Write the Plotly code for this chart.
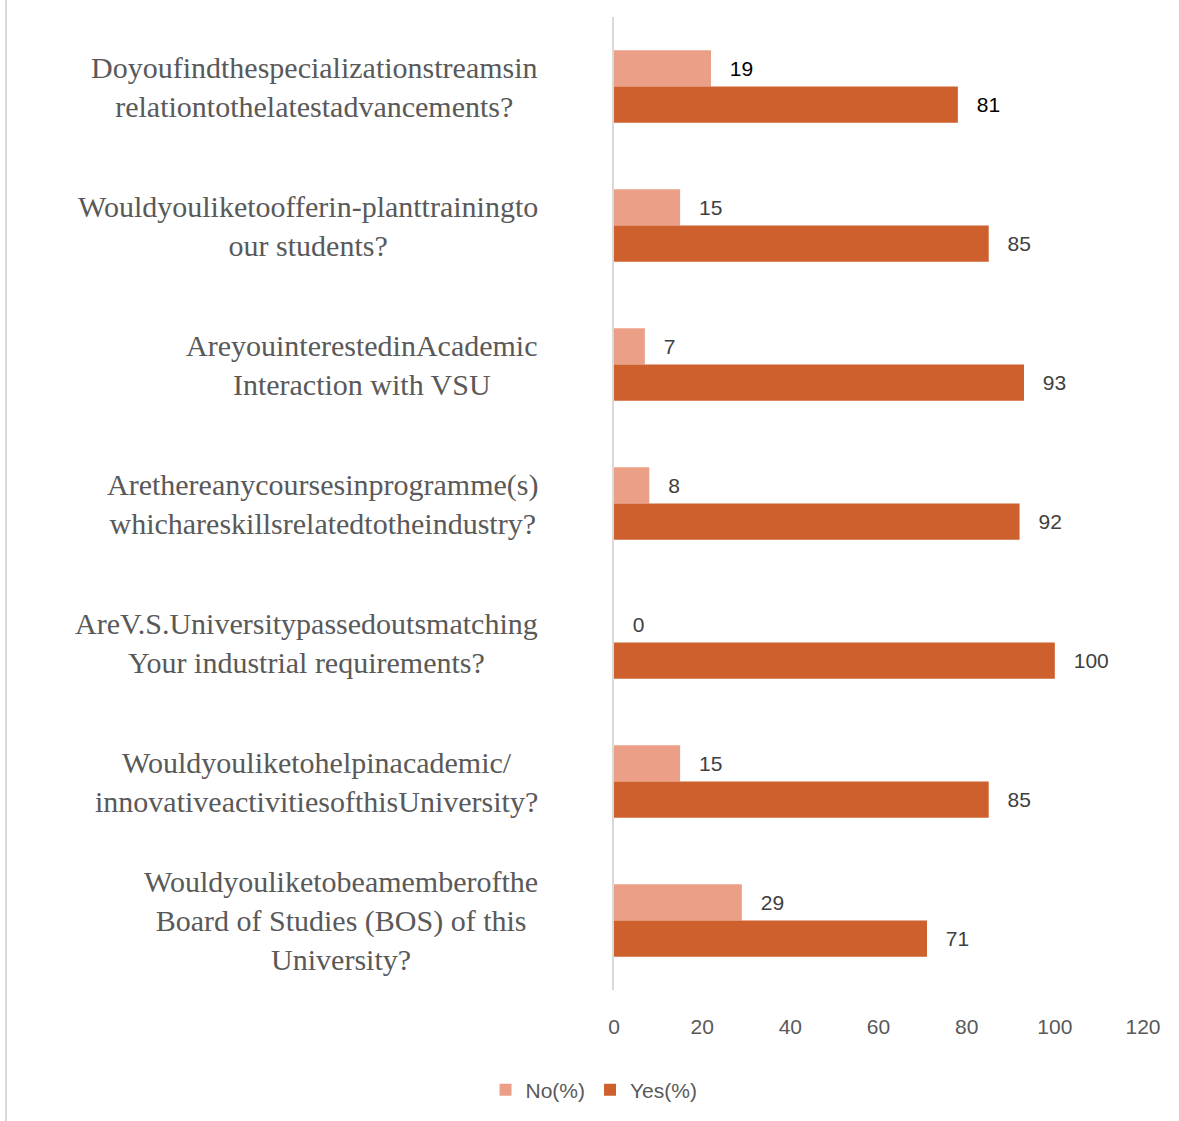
import plotly.graph_objects as go

# ---- data ----
categories = [
    "Doyoufindthespecializationstreamsin<br>relationtothelatestadvancements?",
    "Wouldyouliketoofferin-planttrainingto<br>our students?",
    "AreyouinterestedinAcademic<br>Interaction with VSU",
    "Arethereanycoursesinprogramme(s)<br>whichareskillsrelatedtotheindustry?",
    "AreV.S.Universitypassedoutsmatching<br>Your industrial requirements?",
    "Wouldyouliketohelpinacademic/<br>innovativeactivitiesofthisUniversity?",
    "Wouldyouliketobeamemberofthe<br>Board of Studies (BOS) of this<br>University?",
]
# bar lengths as drawn in the picture
no_pct = [22, 15, 7, 8, 0, 15, 29]
yes_pct = [78, 85, 93, 92, 100, 85, 71]
# data labels as printed in the picture
no_labels = ["19", "15", "7", "8", "0", "15", "29"]
yes_labels = ["81", "85", "93", "92", "100", "85", "71"]
x_ticks = [0, 20, 40, 60, 80, 100, 120]
series_names = ["No(%)", "Yes(%)"]

# ---- styles ----
C_NO = "#EB9F86"
C_YES = "#CD602C"
TXT = "#595959"
W, H = 1179, 1121
ML, MR, MT, MB = 614, 36, 17, 131
PW = W - ML - MR
PH = H - MT - MB
label_colors = ["#000000"] + ["#404040"] * 6

pad = "\u00a0\u00a0\u2009"

fig = go.Figure()
for name, vals, labs, col in [(series_names[0], no_pct, no_labels, C_NO),
                              (series_names[1], yes_pct, yes_labels, C_YES)]:
    fig.add_trace(go.Bar(
        name=name, y=categories, x=vals, orientation="h",
        marker=dict(color=col, line=dict(width=0)),
        text=[f"{pad}{t}" for t in labs], textposition="outside",
        cliponaxis=False,
        textfont=dict(family="Liberation Sans, Arial", size=21, color=label_colors),
        hoverinfo="skip",
    ))

fig.update_layout(
    width=W, height=H,
    margin=dict(l=ML, r=MR, t=MT, b=MB, autoexpand=False),
    paper_bgcolor="white", plot_bgcolor="white",
    barmode="group", bargap=0.48, bargroupgap=0,
    showlegend=True,
    legend=dict(
        orientation="h", xref="container", yref="container",
        x=594 / W, xanchor="center", y=1 - 1090 / H, yanchor="middle",
        font=dict(family="Liberation Sans, Arial", size=21, color=TXT),
        traceorder="normal", itemwidth=30,
    ),
)
fig.update_xaxes(
    range=[0, 120], tickvals=x_ticks, showgrid=False, zeroline=False,
    showline=False, ticks="", ticklabelstandoff=22,
    tickfont=dict(family="Liberation Sans, Arial", size=21, color=TXT),
    fixedrange=True,
)
fig.update_yaxes(
    autorange="reversed", showticklabels=False, showgrid=False,
    showline=True, linecolor="#D9D9D9", linewidth=2, ticks="",
    zeroline=False,
)

# category labels, centered multi-line text
label_right = (540 - ML) / PW
for cat in categories:
    fig.add_annotation(
        xref="paper", yref="y", x=label_right, y=cat,
        text=cat, showarrow=False, xanchor="right", yanchor="middle",
        align="center",
        font=dict(family="Liberation Serif, Times New Roman", size=30, color=TXT),
    )

# left frame border
fig.add_shape(
    type="line", xref="paper", yref="paper",
    x0=(6 - ML) / PW, x1=(6 - ML) / PW,
    y0=-MB / PH, y1=1 + MT / PH,
    line=dict(color="#D9D9D9", width=2),
)

fig.write_html("out.html", config={"displayModeBar": False},
               post_script="document.body.style.margin='0';")
